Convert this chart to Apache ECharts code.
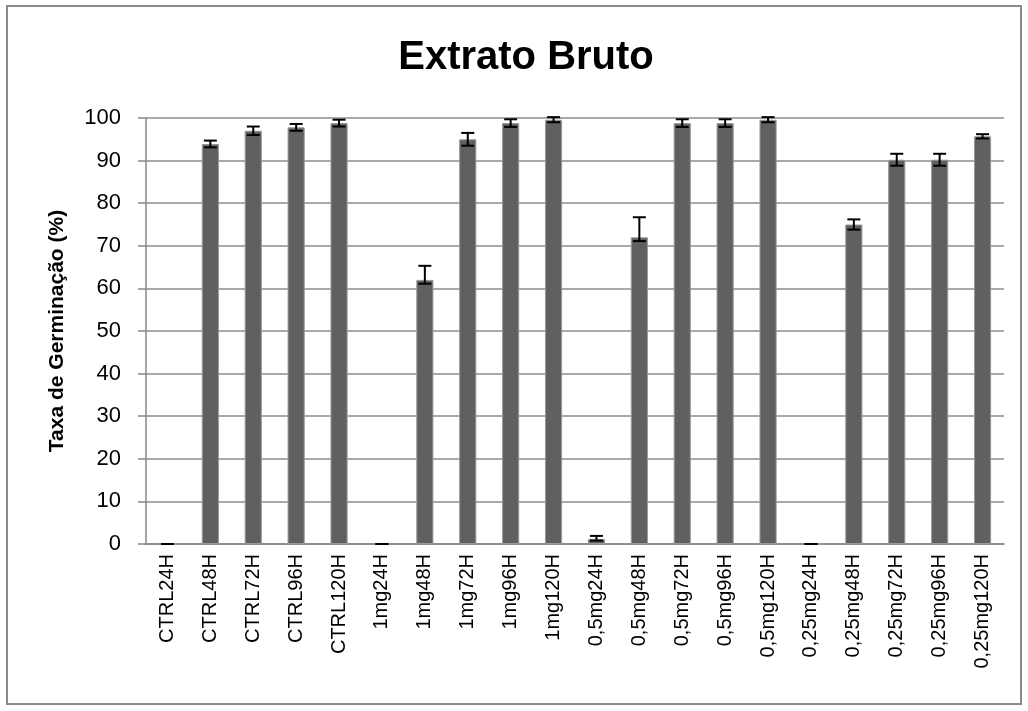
<!DOCTYPE html>
<html>
<head>
<meta charset="utf-8">
<script src="https://cdn.jsdelivr.net/npm/echarts@6/dist/echarts.min.js"></script>
<style>
  html, body { margin: 0; padding: 0; background: #fff; }
  #chart { width: 1028px; height: 711px; }
</style>
</head>
<body>
<div id="chart"></div>
<script>
// categorias (grupo + tempo)
const categories = [
  "CTRL24H", "CTRL48H", "CTRL72H", "CTRL96H", "CTRL120H",
  "1mg24H", "1mg48H", "1mg72H", "1mg96H", "1mg120H",
  "0,5mg24H", "0,5mg48H", "0,5mg72H", "0,5mg96H", "0,5mg120H",
  "0,25mg24H", "0,25mg48H", "0,25mg72H", "0,25mg96H", "0,25mg120H"
];
// taxa de germinação (%)
const taxa = [
  0, 93.9, 97, 97.8, 98.8,
  0, 62, 95, 98.8, 99.6,
  1.2, 72, 98.8, 98.8, 99.6,
  0, 75, 90.2, 90.2, 95.7
];
// barras de erro (acima / abaixo)
const erroMais = [
  0, 0.8, 1.0, 0.8, 0.8,
  0, 3.3, 1.5, 0.9, 0.6,
  0.7, 4.7, 0.9, 0.9, 0.6,
  0, 1.2, 1.4, 1.4, 0.5
];
const erroMenos = [
  0, 0.8, 1.0, 0.8, 0.8,
  0, 0.9, 1.5, 0.9, 0.6,
  0.4, 0.9, 0.9, 0.9, 0.6,
  0, 1.2, 1.4, 1.4, 0.5
];
const yTicks = [0, 100, 10]; // min, max, intervalo

const errData = taxa.map((v, i) => [i, v - erroMenos[i], v + erroMais[i]]);

const chart = echarts.init(document.getElementById("chart"));
chart.setOption({
  animation: false,
  title: {
    text: "Extrato Bruto",
    left: 521,
    textAlign: "center",
    top: 33,
    textStyle: { fontFamily: "Liberation Sans", fontSize: 40, fontWeight: "bold", color: "#000" }
  },
  graphic: [{
    type: "rect",
    shape: { x: 7, y: 6, width: 1014, height: 698 },
    style: { fill: "none", stroke: "#8a8a8a", lineWidth: 2 },
    silent: true
  }],
  grid: { left: 146, right: 24, top: 118, bottom: 167 },
  xAxis: {
    type: "category",
    data: categories,
    axisLine: { lineStyle: { color: "#878787", width: 1.5 } },
    axisTick: { length: 8, interval: 0, lineStyle: { color: "#878787", width: 1.5 } },
    axisLabel: {
      interval: 0, rotate: 90, margin: 10,
      fontFamily: "Liberation Sans", fontSize: 20, color: "#000"
    }
  },
  yAxis: {
    type: "value",
    min: yTicks[0], max: yTicks[1], interval: yTicks[2],
    name: "Taxa de Germinação (%)",
    nameLocation: "middle",
    nameGap: 78,
    nameTextStyle: { fontFamily: "Liberation Sans", fontSize: 21, fontWeight: "bold", color: "#000" },
    axisLine: { show: true, lineStyle: { color: "#878787", width: 1.5 } },
    axisTick: { show: true, length: 8, lineStyle: { color: "#878787", width: 1.5 } },
    axisLabel: { margin: 25, fontFamily: "Liberation Sans", fontSize: 22, color: "#000" },
    splitLine: { lineStyle: { color: "#8c8c8c", width: 1.5 } }
  },
  series: [
    {
      type: "bar",
      data: taxa,
      barWidth: "40%",
      itemStyle: { color: "#606060", borderColor: "#9a9a9a", borderWidth: 1 }
    },
    {
      type: "custom",
      data: errData,
      z: 5,
      renderItem: function (params, api) {
        const x = api.value(0);
        const low = api.coord([x, api.value(1)]);
        const high = api.coord([x, api.value(2)]);
        const half = 6.5;
        const st = { stroke: "#000", lineWidth: 2 };
        return {
          type: "group",
          children: [
            { type: "line", shape: { x1: low[0], y1: low[1], x2: high[0], y2: high[1] }, style: st },
            { type: "line", shape: { x1: low[0] - half, y1: low[1], x2: low[0] + half, y2: low[1] }, style: st },
            { type: "line", shape: { x1: high[0] - half, y1: high[1], x2: high[0] + half, y2: high[1] }, style: st }
          ]
        };
      }
    }
  ]
});
</script>
</body>
</html>
